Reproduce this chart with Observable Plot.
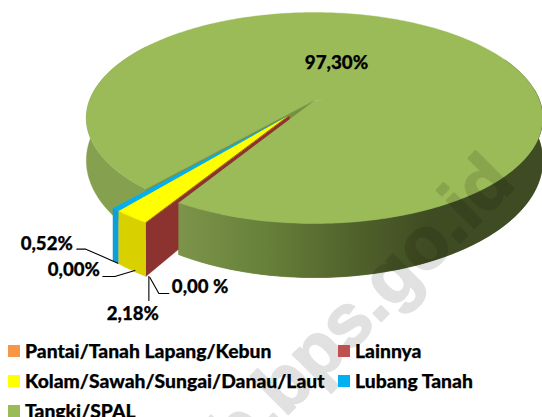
<!DOCTYPE html>
<html>
<head>
<meta charset="utf-8">
<script src="https://cdn.jsdelivr.net/npm/d3@7"></script>
<script src="https://cdn.jsdelivr.net/npm/@observablehq/plot@0.6"></script>
<style>html,body{margin:0;padding:0;background:#fff}svg{display:block}</style>
</head>
<body>
<div id="chart"></div>
<script>
// ---- data ----
const categories = ["Pantai/Tanah Lapang/Kebun", "Lainnya", "Kolam/Sawah/Sungai/Danau/Laut", "Lubang Tanah", "Tangki/SPAL"];
const shares = [0.00, 0.00, 2.18, 0.52, 97.30];
const valueLabels = ["0,00%", "0,00 %", "2,18%", "0,52%", "97,30%"];
const colors = ["#f79646", "#c0504d", "#ffff00", "#00b0f0", "#9bbb59"];

// ---- layout of the tilted pie ----
const W = 542, H = 417;
const startDeg = 121.2, explode = 0.175, k = 0.166, explodeTurn = 2;
const cx = 314, a = 225, topC = 100, topB = 102.6, botC = 140.6, botB = 113.8;
const rad = d => d * Math.PI / 180;
const cum = d3.cumsum(shares);
const from = i => startDeg + (i ? cum[i - 1] : 0) * 3.6;
const to = i => startDeg + cum[i] * 3.6;
const wedgeMid = (from(0) + to(3)) / 2 + explodeTurn;

function proj(deg, r, e, bottom) {
  const X = r * Math.cos(rad(deg)) + e * Math.cos(rad(wedgeMid));
  const Y = r * Math.sin(rad(deg)) + e * Math.sin(rad(wedgeMid));
  const w = 1 - k * Y;
  return {x: cx + a * X / w, y: bottom ? botC + botB * Y / w : topC + topB * Y / w};
}
const arc = (d0, d1, e, bottom) => {
  const n = Math.max(2, Math.ceil(Math.abs(d1 - d0)));
  return d3.range(n + 1).map(i => proj(d0 + (d1 - d0) * i / n, 1, e, bottom));
};
const sector = (d0, d1, e) => [proj(d0, 0, e, false), ...arc(d0, d1, e, false)];
const wall = (d0, d1, e) => [...arc(d0, d1, e, false), ...arc(d0, d1, e, true).reverse()];
const radial = (d, e) => [proj(d, 0, e, false), proj(d, 1, e, false), proj(d, 1, e, true), proj(d, 0, e, true)];

const poly = (pts, fill) => Plot.line(pts, {x: "x", y: "y", fill, stroke: fill, strokeWidth: 0.4});

const gradient = () => {
  const defs = d3.create("svg:defs");
  const g = defs.append("linearGradient").attr("id", "wallShade")
    .attr("gradientUnits", "userSpaceOnUse")
    .attr("x1", 176).attr("x2", 430).attr("y1", 0).attr("y2", 0);
  [[0, "#7d954a"], [0.35, "#67803a"], [0.65, "#53662d"], [1, "#3f4b22"]].forEach(([o, c]) =>
    g.append("stop").attr("offset", o).attr("stop-color", c));
  return defs.node();
};

const greenFrom = from(4);
const nearEnd = startDeg;
const faceColors = {blue: "#0f9ed8", yellow: "#d9d000", red: "#8c3330"};

// ---- labels and leaders, offset from the rim of the slice they describe ----
const rim = (d) => proj(d, 1, explode, true);
const leaders = [
  {i: 0, at: from(0), pts: [[-11, -6], [-31, 0], [-43, 0]], tx: -46, ty: -6, anchor: "end"},
  {i: 1, at: from(1), pts: [[4, 1], [13, 17], [23, 17]], tx: 26, ty: 11, anchor: "start"},
  {i: 2, at: from(2), pts: [[3, 0], [3, 24]], tx: -13, ty: 38, anchor: "middle"},
  {i: 3, at: (from(3) + to(3)) / 2, pts: [[2, 1], [-30, -13], [-39, -13]], tx: -43, ty: -18, anchor: "end"}
];
const leaderRows = leaders.flatMap(l => {
  const p = rim(l.at);
  return l.pts.map(o => ({i: l.i, x: p.x + o[0], y: p.y + o[1]}));
});
const labelRows = leaders.map(l => {
  const p = rim(l.at);
  return {x: p.x + l.tx, y: p.y + l.ty, text: valueLabels[l.i], anchor: l.anchor};
});
const font = "Lato, 'Open Sans', sans-serif";
const textStyle = {fontWeight: 900, fontFamily: font, fill: "#000", stroke: "#000", strokeWidth: 0.25};

// ---- legend ----
const legendCol = [8, 338, 8, 338, 8];
const legendRow = [351, 351, 381, 381, 411];
const legendRows = categories.map((c, i) => ({c, col: colors[i], x: legendCol[i], y: legendRow[i]}));

const plot = Plot.plot({
  width: W, height: H,
  margin: 0,
  x: {domain: [0, W], range: [0, W], axis: null},
  y: {domain: [0, H], range: [0, H], axis: null},
  style: {background: "#fff"},
  marks: [
    gradient,
    // green walls behind the wedge
    poly(wall(-25, nearEnd, 0), "url(#wallShade)"),
    poly(wall(greenFrom, 215, 0), "#85a04e"),
    // green top, far side
    poly(sector(greenFrom, 360, 0), colors[4]),
    // green cut face seen through the gap
    poly(radial(greenFrom, 0), "#76903f"),
    // pulled-out wedge
    poly(radial(from(0), explode), faceColors.red),
    poly(wall(from(3), to(3), explode), faceColors.blue),
    poly(wall(from(2), to(2), explode), faceColors.yellow),
    poly(sector(from(3), to(3), explode), colors[3]),
    poly(sector(from(2), to(2), explode), colors[2]),
    // zero-width slices show as a thin edge
    Plot.line([proj(from(0), 0, explode, false), proj(from(0), 1, explode, false)],
      {x: "x", y: "y", stroke: "#a8741c", strokeWidth: 1}),
    // green near side
    poly(wall(-6, nearEnd, 0), "url(#wallShade)"),
    poly(sector(-6, nearEnd, 0), colors[4]),
    // watermark
    Plot.text(["ab.bps.go.id"], {
      x: () => 500, y: () => 168, text: d => d, rotate: -45, textAnchor: "end", lineAnchor: "middle",
      fontSize: 74, fontWeight: 700, fontFamily: "'Liberation Sans', sans-serif",
      fill: "#000", stroke: "#000", strokeWidth: 2, opacity: 0.115
    }),
    // leaders and labels
    Plot.line(leaderRows, {x: "x", y: "y", z: "i", stroke: "#000", strokeWidth: 1.1}),
    Plot.text(labelRows, {x: "x", y: "y", text: "text", textAnchor: "start", filter: d => d.anchor === "start", fontSize: 18.6, ...textStyle}),
    Plot.text(labelRows, {x: "x", y: "y", text: "text", textAnchor: "end", filter: d => d.anchor === "end", fontSize: 18.6, ...textStyle}),
    Plot.text(labelRows, {x: "x", y: "y", text: "text", textAnchor: "middle", filter: d => d.anchor === "middle", fontSize: 18.6, ...textStyle}),
    Plot.text([valueLabels[4]], {x: () => 336, y: () => 62, text: d => d, fontSize: 18.8, ...textStyle}),
    // legend
    Plot.rect(legendRows, {x1: "x", x2: d => d.x + 12, y1: d => d.y - 6, y2: d => d.y + 6, fill: "col"}),
    Plot.text(legendRows, {x: d => d.x + 16.5, y: "y", text: "c", textAnchor: "start", fontSize: 19.3, ...textStyle})
  ],
  color: {type: "identity"}
});
document.getElementById("chart").appendChild(plot);
</script>
</body>
</html>
